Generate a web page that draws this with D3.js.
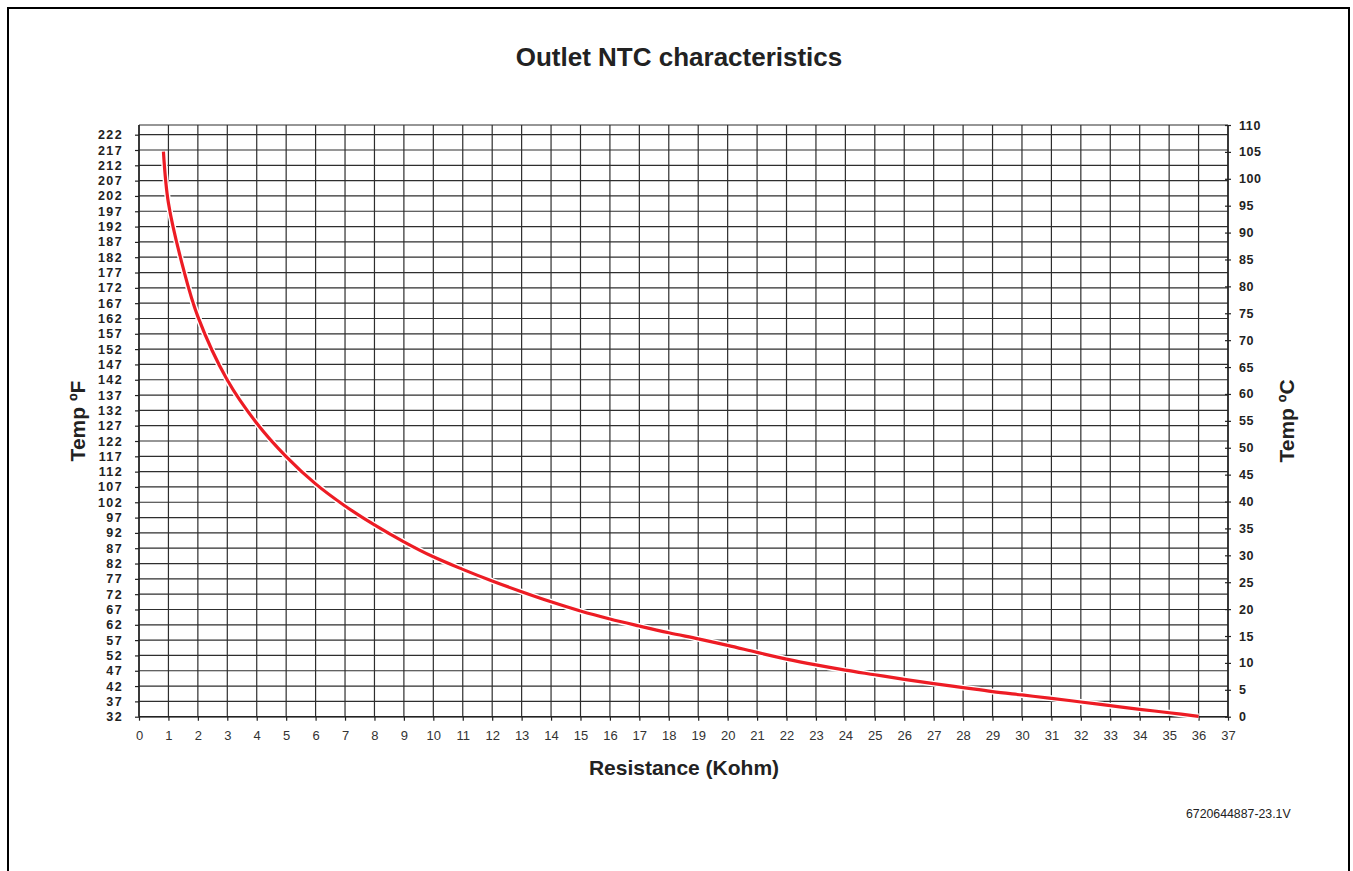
<!DOCTYPE html>
<html>
<head>
<meta charset="utf-8">
<script src="https://cdn.jsdelivr.net/npm/d3@7"></script>
<style>
  html, body { margin: 0; padding: 0; background: #fff; }
  svg { display: block; font-family: "Liberation Sans", Arial, sans-serif; }
</style>
</head>
<body>
<svg id="chart" width="1353" height="871"></svg>
<script>
// ---- data ----
const resistanceKohm = [0.83, 1, 1.5, 2, 3, 4, 5, 6, 7, 8, 9, 10, 11, 12, 13, 14, 15, 16, 17, 18, 19, 20, 21, 22, 23, 24, 25, 26, 27, 28, 29, 30, 31, 32, 33, 34, 35, 36];
const tempF = [216.5, 199.7, 178.5, 162.6, 141.9, 127.8, 116.9, 108.0, 100.8, 94.6, 89.1, 84.2, 80.1, 76.3, 72.8, 69.5, 66.5, 63.9, 61.6, 59.4, 57.4, 55.3, 53.0, 50.8, 48.9, 47.2, 45.7, 44.2, 42.8, 41.5, 40.2, 39.1, 38.0, 36.8, 35.6, 34.4, 33.3, 32.1];
const xTicks = d3.range(0, 38, 1);
const fTicks = d3.range(32, 223, 5);
const cTicks = d3.range(0, 111, 5);

const title = "Outlet NTC characteristics";
const xTitle = "Resistance (Kohm)";
const yLeftTitle = "Temp ºF";
const yRightTitle = "Temp ºC";
const footer = "6720644887-23.1V";

// ---- layout ----
const svg = d3.select("#chart");
const L = 139, R = 1228, B = 716.7, T = 125;

const x = d3.scaleLinear().domain([0, 37]).range([L, R]);
const yF = d3.scaleLinear().domain([32, 217]).range([B, 150]);
const yC = d3.scaleLinear().domain([0, 110]).range([B, T]);

// outer frame
svg.append("rect").attr("x", 8).attr("y", 8).attr("width", 1341).attr("height", 900)
  .attr("fill", "none").attr("stroke", "#000").attr("stroke-width", 2);

// title
svg.append("text").attr("x", 679).attr("y", 66).attr("text-anchor", "middle")
  .attr("font-size", 26).attr("font-weight", "bold").attr("fill", "#222").text(title);

// grid
const grid = svg.append("g");
grid.selectAll("line.v").data(xTicks).join("line")
  .attr("x1", d => x(d)).attr("x2", d => x(d)).attr("y1", T).attr("y2", B)
  .attr("stroke", "#2e2e2e").attr("stroke-width", 1.2);
grid.selectAll("line.h").data(fTicks).join("line")
  .attr("x1", L).attr("x2", R).attr("y1", d => yF(d)).attr("y2", d => yF(d))
  .attr("stroke", "#2e2e2e").attr("stroke-width", 1.2);
grid.append("line").attr("x1", L).attr("x2", R).attr("y1", T).attr("y2", T)
  .attr("stroke", "#2e2e2e").attr("stroke-width", 1.2);

// left axis (°F)
const axL = d3.axisLeft(yF).tickValues(fTicks).tickSize(4).tickPadding(12).tickFormat(d3.format("d"));
const gL = svg.append("g").attr("transform", `translate(${L},0)`).call(axL);
gL.select(".domain").attr("d", `M0,${T}V${B}`).attr("stroke", "#222").attr("stroke-width", 1.5);
gL.selectAll(".tick line").attr("stroke", "#222").attr("stroke-width", 1.2);
gL.selectAll(".tick text").attr("font-size", 12.5).attr("font-weight", "bold")
  .attr("font-family", "Liberation Sans, Arial, sans-serif").attr("fill", "#222")
  .attr("letter-spacing", 1.4);

// right axis (°C)
const axR = d3.axisRight(yC).tickValues(cTicks).tickSize(3).tickPadding(8).tickFormat(d3.format("d"));
const gR = svg.append("g").attr("transform", `translate(${R},0)`).call(axR);
gR.select(".domain").attr("d", `M0,${T}V${B}`).attr("stroke", "#222").attr("stroke-width", 1.5);
gR.selectAll(".tick line").attr("x1", -3).attr("stroke", "#222").attr("stroke-width", 1.2);
gR.selectAll(".tick text").attr("font-size", 12.5).attr("font-weight", "bold")
  .attr("font-family", "Liberation Sans, Arial, sans-serif").attr("fill", "#222")
  .attr("letter-spacing", 0.6);

// bottom axis
const axB = d3.axisBottom(x).tickValues(xTicks).tickSize(4).tickPadding(10).tickFormat(d3.format("d"));
const gB = svg.append("g").attr("transform", `translate(0,${B})`).call(axB);
gB.select(".domain").attr("d", `M${L},0H${R}`).attr("stroke", "#222").attr("stroke-width", 1.5);
gB.selectAll(".tick line").attr("stroke", "#222").attr("stroke-width", 1.2);
gB.selectAll(".tick text").attr("font-size", 13)
  .attr("font-family", "Liberation Sans, Arial, sans-serif").attr("fill", "#333");

// axis titles
svg.append("text").attr("x", 684).attr("y", 775).attr("text-anchor", "middle")
  .attr("font-size", 21).attr("font-weight", "bold").attr("fill", "#222").text(xTitle);
svg.append("text").attr("transform", "translate(85,421) rotate(-90)").attr("text-anchor", "middle")
  .attr("font-size", 21).attr("font-weight", "bold").attr("fill", "#222").text(yLeftTitle);
svg.append("text").attr("transform", "translate(1294,421) rotate(-90)").attr("text-anchor", "middle")
  .attr("font-size", 21).attr("font-weight", "bold").attr("fill", "#222").text(yRightTitle);

// footer
svg.append("text").attr("x", 1186).attr("y", 818).attr("font-size", 12.3)
  .attr("fill", "#222").text(footer);

// curve
const pts = resistanceKohm.map((r, i) => [r, tempF[i]]);
const line = d3.line().x(d => x(d[0])).y(d => yF(d[1])).curve(d3.curveCatmullRom.alpha(0.5));
svg.append("path").attr("d", line(pts)).attr("fill", "none")
  .attr("stroke", "#fff").attr("stroke-width", 6).attr("stroke-linejoin", "round");
svg.append("path").attr("d", line(pts)).attr("fill", "none")
  .attr("stroke", "#ed1c24").attr("stroke-width", 3.2).attr("stroke-linejoin", "round");
</script>
</body>
</html>
